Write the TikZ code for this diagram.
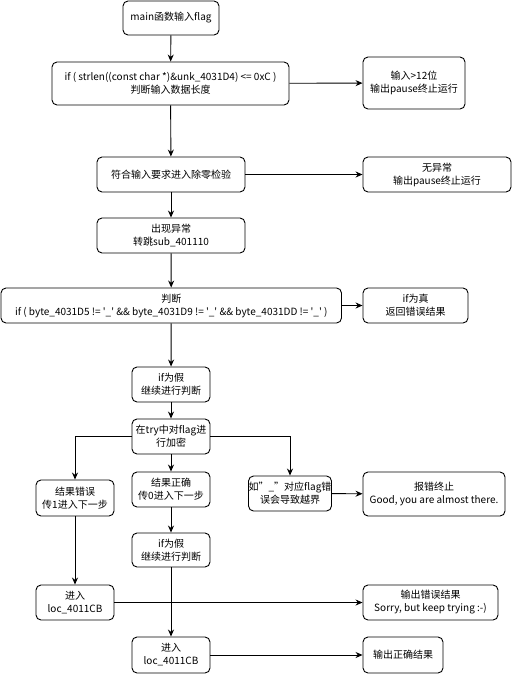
\documentclass[tikz,border=0pt]{standalone}
\usepackage{fontspec}
\setmainfont{Noto Sans CJK SC}
\usetikzlibrary{arrows.meta}
\newcommand{\uq}{\textquotesingle\_\textquotesingle}

\begin{document}
\begin{tikzpicture}[x=1pt, y=-1pt, font=\fontsize{10}{13}\selectfont, line width=0.9pt,
    box/.style={draw, rounded corners=5pt, align=center, inner sep=0pt,
      minimum width=78pt, minimum height=35pt},
    arr/.style={-{Stealth[length=7pt, width=6pt]}}]
    \useasboundingbox (0,0) rectangle (512,674);
    \node[box, minimum width=96pt, minimum height=34pt] (main) at (171,18) {main函数输入flag};
    \node[box, minimum width=237pt, minimum height=43pt] (len) at (170.5,83.5)
      {if ( strlen((const char *)\&unk\_4031D4) <= 0xC )\\判断输入数据长度};
    \node[box, minimum width=102pt, minimum height=52pt] (gt) at (414,83) {输入>12位\\输出pause终止运行};
    \node[box, minimum width=148pt] (div) at (171,174.5) {符合输入要求进入除零检验};
    \node[box, minimum width=148pt] (noexc) at (437,174.5) {无异常\\输出pause终止运行};
    \node[box, minimum width=148pt] (exc) at (171,235.5) {出现异常\\转跳sub\_401110};
    \node[box, minimum width=340.5pt] (judge) at (171.25,305.5)
      {判断\\if ( byte\_4031D5 != \uq{} \&\& byte\_4031D9 != \uq{} \&\& byte\_4031DD != \uq{} )};
    \node[box, minimum width=105pt] (true) at (415.5,305.5) {if为真\\返回错误结果};
    \node[box] (false) at (171,384.5) {if为假\\继续进行判断};
    \node[box] (try) at (171,436.5) {在try中对flag进\\行加密};
    \node[box, minimum height=36pt] (wrong) at (75,498) {结果错误\\传1进入下一步};
    \node[box] (right) at (171,489.5) {结果正确\\传0进入下一步};
    \node[box] (oob) at (290,493.5) {如"\_"对应flag错\\误会导致越界};
    \node[box, minimum width=142pt, minimum height=44pt] (almost) at (434,494)
      {报错终止\\Good, you are almost there.};
    \node[box, minimum height=34pt] (falseb) at (171,550) {if为假\\继续进行判断};
    \node[box] (locl) at (75,602.5) {进入\\loc\_4011CB};
    \node[box, minimum width=135pt] (sorry) at (430.5,602.5) {输出错误结果\\Sorry, but keep trying :-)};
    \node[box, minimum height=36pt] (locc) at (171,655) {进入\\loc\_4011CB};
    \node[box, minimum width=80pt, minimum height=36pt] (ok) at (403,655) {输出正确结果};
    \draw[arr] (main) -- (len);
    \draw[arr] (len) -- (gt);
    \draw[arr] (len) -- (div);
    \draw[arr] (div) -- (noexc);
    \draw[arr] (div) -- (exc);
    \draw[arr] (exc) -- (judge);
    \draw[arr] (judge.east) -- (true.west);
    \draw[arr] (judge) -- (false);
    \draw[arr] (false) -- (try);
    \draw[arr] (try.west) -| (wrong.north);
    \draw[arr] (try) -- (right);
    \draw[arr] (try.east) -| (oob.north);
    \draw[arr] (oob) -- (almost);
    \draw[arr] (right) -- (falseb);
    \draw[arr] (wrong) -- (locl);
    \draw[arr] (locl) -- (sorry);
    \draw[arr] (falseb) -- (locc);
    \draw[arr] (locc) -- (ok);
\end{tikzpicture}
\end{document}
